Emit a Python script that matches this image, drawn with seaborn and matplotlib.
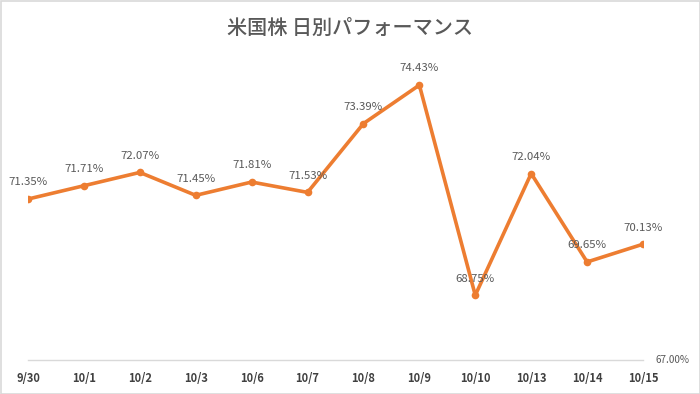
import matplotlib
matplotlib.use("Agg")
import matplotlib.pyplot as plt
import seaborn as sns
import pandas as pd
from matplotlib.patches import Rectangle

dates = ["9/30", "10/1", "10/2", "10/3", "10/6", "10/7", "10/8", "10/9",
         "10/10", "10/13", "10/14", "10/15"]
values = [71.35, 71.71, 72.07, 71.45, 71.81, 71.53, 73.39, 74.43,
          68.75, 72.04, 69.65, 70.13]
title = "米国株 日別パフォーマンス"
y_min_label = "67.00%"

sns.set_theme(style="white")
plt.rcParams['font.family'] = ['Noto Sans CJK JP', 'DejaVu Sans']

df = pd.DataFrame({"date": dates, "value": values})

fig = plt.figure(figsize=(7.0, 3.94), dpi=100)
ax = fig.add_axes([28/700, 34/394, 615/700, 296/394])

sns.lineplot(data=df, x="date", y="value", sort=False, ax=ax,
             color="#ED7D31", linewidth=2.6, marker="o", markersize=5.5,
             markeredgecolor="#ED7D31", markeredgewidth=0)

ax.set_xlim(0, len(dates) - 1)
ax.set_ylim(67, 75)
ax.set_xlabel("")
ax.set_ylabel("")
ax.set_yticks([])
for s in ["top", "left", "right"]:
    ax.spines[s].set_visible(False)
ax.spines["bottom"].set_color("#D9D9D9")
ax.spines["bottom"].set_linewidth(1.0)
ax.tick_params(axis="x", length=0, pad=9, labelsize=8, labelcolor="#404040")
for lbl in ax.get_xticklabels():
    lbl.set_fontweight("bold")

for i, v in enumerate(values):
    ax.annotate(f"{v:.2f}%", (i, v), xytext=(0, 12), textcoords="offset points",
                ha="center", va="center", fontsize=8.2, color="#595959")

ax.annotate(y_min_label, (1, 0), xycoords="axes fraction", xytext=(9, 0),
            textcoords="offset points", ha="left", va="center",
            fontsize=7.2, color="#595959")

fig.text(0.5, 1 - 28/394, title, ha="center", va="center",
         fontsize=14.5, color="#595959", fontweight="medium")

fig.patches.append(Rectangle((0.5/700, 0.5/394), 1 - 1/700, 1 - 1/394,
                             transform=fig.transFigure, fill=False,
                             edgecolor="#D9D9D9", linewidth=1.2))

fig.savefig("out.png", dpi=100)
